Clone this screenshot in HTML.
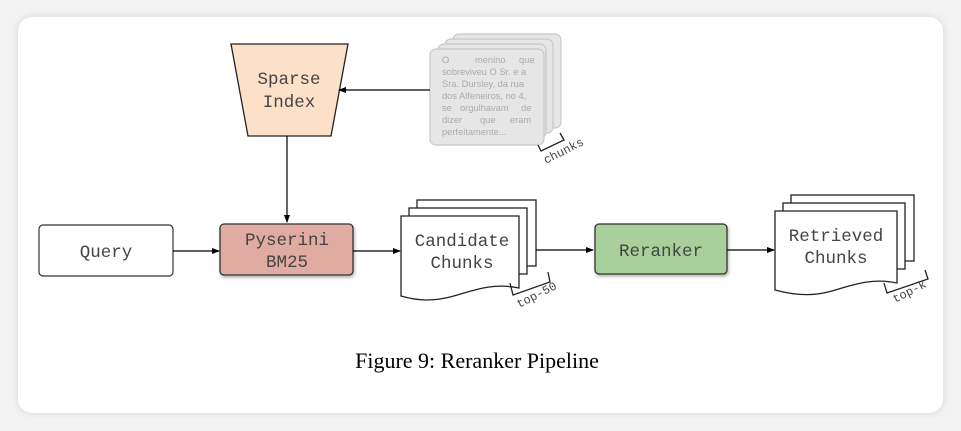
<!DOCTYPE html>
<html><head><style>
html,body{margin:0;padding:0;width:961px;height:431px;overflow:hidden;background:#f3f3f3;}
.card{position:absolute;left:18px;top:17px;width:925px;height:396px;background:#fff;border-radius:14px;box-shadow:0 0 8px rgba(0,0,0,0.12);}
svg{position:absolute;left:0;top:0;}
</style></head><body>
<div class="card"></div>
<svg width="961" height="431" viewBox="0 0 961 431" xmlns="http://www.w3.org/2000/svg">
<defs>
<marker id="ar" markerWidth="8" markerHeight="8" refX="7" refY="4" orient="auto" markerUnits="userSpaceOnUse"><path d="M0,1 L8,4 L0,7 z" fill="#000"/></marker>
<filter id="sh" x="-10%" y="-10%" width="130%" height="140%"><feDropShadow dx="1" dy="2" stdDeviation="1.5" flood-opacity="0.3"/></filter>
</defs>
<g font-family="Liberation Mono, monospace" font-size="17.5" fill="#444">
<!-- sparse index -->
<path d="M231,44 L348,44 L331,136 L248,136 Z" fill="#fce0c8" stroke="#222" stroke-width="1.3"/>
<text x="289" y="84" text-anchor="middle">Sparse</text>
<text x="289" y="107" text-anchor="middle">Index</text>
<line x1="287" y1="136" x2="287" y2="222" stroke="#000" stroke-width="1.2" marker-end="url(#ar)"/>
<!-- gray chunks -->
<g fill="#e6e6e6" stroke="#c8c8c8" stroke-width="1.2">
<rect x="453" y="34" width="108" height="94" rx="6"/>
<rect x="445" y="39" width="108" height="94" rx="6"/>
<rect x="438" y="44" width="108" height="94" rx="6"/>
<rect x="430" y="49" width="114" height="96" rx="6"/>
</g>
<g font-family="Liberation Sans, sans-serif" font-size="9.3" fill="#aaa">
<text x="442" y="63">O</text><text x="475" y="63">menino</text><text x="519" y="63">que</text>
<text x="442" y="75">sobreviveu O Sr. e a</text>
<text x="442" y="87">Sra. Dursley, da rua</text>
<text x="442" y="99">dos Alfeneiros, no 4,</text>
<text x="442" y="111">se</text><text x="460" y="111">orgulhavam</text><text x="521" y="111">de</text>
<text x="442" y="123">dizer</text><text x="480" y="123">que</text><text x="510" y="123">eram</text>
<text x="442" y="135">perfeitamente...</text>
</g>
<line x1="430" y1="90" x2="339" y2="90" stroke="#000" stroke-width="1.2" marker-end="url(#ar)"/>
<path d="M538,145 L541,151 L564,140 L560,133" fill="none" stroke="#222" stroke-width="1.3"/>
<text x="546" y="164" font-size="12" transform="rotate(-27 546 164)">chunks</text>
<!-- query -->
<rect x="39" y="225" width="134" height="51" rx="4" fill="#fff" stroke="#333" stroke-width="1.2"/>
<text x="106" y="257" text-anchor="middle">Query</text>
<line x1="173" y1="251" x2="219" y2="251" stroke="#000" stroke-width="1.2" marker-end="url(#ar)"/>
<!-- pyserini -->
<rect x="220" y="224" width="133" height="51" rx="4" fill="#e0aca2" stroke="#333" stroke-width="1.3" filter="url(#sh)"/>
<text x="287" y="245" text-anchor="middle">Pyserini</text>
<text x="287" y="267" text-anchor="middle">BM25</text>
<line x1="353" y1="251" x2="400" y2="251" stroke="#000" stroke-width="1.2" marker-end="url(#ar)"/>
<!-- candidate -->
<g fill="#fff" stroke="#222" stroke-width="1.3">
<rect x="417" y="200" width="119" height="66"/>
<rect x="409" y="208" width="118" height="66"/>
<path d="M401,216 L519,216 L519,288 C490,282 470,292 450,297 C430,302 415,300 401,296 Z"/>
</g>
<text x="462" y="246" text-anchor="middle">Candidate</text>
<text x="462" y="268" text-anchor="middle">Chunks</text>
<path d="M510,283 L513,295 L550,282 L548,272" fill="none" stroke="#222" stroke-width="1.3"/>
<text x="519" y="308" font-size="12" transform="rotate(-27 519 308)">top-50</text>
<line x1="536" y1="250" x2="593" y2="250" stroke="#000" stroke-width="1.2" marker-end="url(#ar)"/>
<!-- reranker -->
<rect x="595" y="224" width="132" height="50" rx="4" fill="#a9d09a" stroke="#333" stroke-width="1.3" filter="url(#sh)"/>
<text x="661" y="256" text-anchor="middle">Reranker</text>
<line x1="727" y1="250" x2="774" y2="250" stroke="#000" stroke-width="1.2" marker-end="url(#ar)"/>
<!-- retrieved -->
<g fill="#fff" stroke="#222" stroke-width="1.3">
<rect x="791" y="195" width="123" height="66"/>
<rect x="783" y="203" width="122" height="66"/>
<path d="M775,211 L897,211 L897,283 C868,277 848,287 828,292 C808,297 790,294 775,290 Z"/>
</g>
<text x="836" y="241" text-anchor="middle">Retrieved</text>
<text x="836" y="263" text-anchor="middle">Chunks</text>
<path d="M884,283 L887,293 L928,279 L925,270" fill="none" stroke="#222" stroke-width="1.3"/>
<text x="895" y="303" font-size="12" transform="rotate(-27 895 303)">top-k</text>
</g>
<text x="477" y="368" text-anchor="middle" font-family="Liberation Serif, serif" font-size="22" fill="#000">Figure 9: Reranker Pipeline</text>
</svg>
</body></html>
